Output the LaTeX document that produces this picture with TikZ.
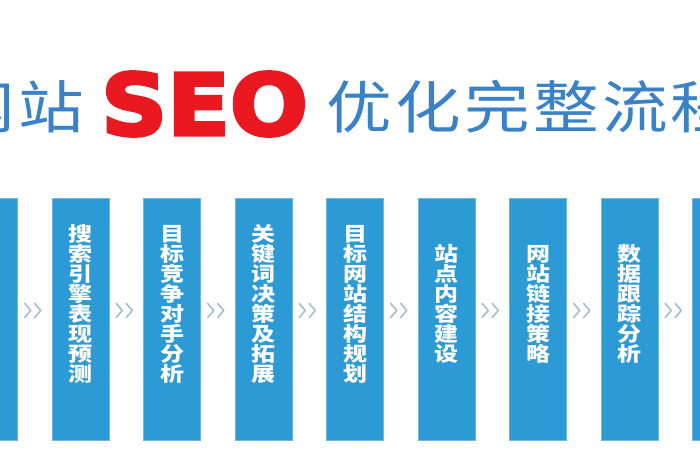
\documentclass[tikz,border=0pt]{standalone}
\usepackage{fontspec}
\usetikzlibrary{calc}
\newfontfamily\boxfont[FakeStretch=1.2]{Noto Sans CJK SC}
\newfontfamily\titlefont[FakeStretch=1.15,LetterSpace=6]{Noto Sans CJK SC}
\newfontfamily\seofont[FakeBold=4,FakeStretch=1.08]{DejaVu Sans Bold}
\definecolor{boxblue}{HTML}{2C9AD5}
\definecolor{boxedge}{HTML}{6CB8E4}
\definecolor{titleblue}{HTML}{3A82C8}
\definecolor{seored}{HTML}{EA1820}
\definecolor{chevgrey}{HTML}{A3BED4}
\tikzset{
  stepbox/.style={rectangle, fill=boxblue, draw=boxedge, line width=0.8pt,
    minimum width=57pt, minimum height=242pt, inner sep=0pt},
  boxtext/.style={text=white, align=center, inner sep=0pt,
    font=\boxfont\bfseries\fontsize{20}{20}\selectfont},
  titletext/.style={text=titleblue, inner sep=0pt,
    font=\titlefont\fontsize{57}{57}\selectfont},
  seotext/.style={text=seored, inner sep=0pt,
    font=\seofont\fontsize{85}{85}\selectfont},
  chev/.style={draw=chevgrey, line width=1.6pt, line cap=round, line join=round}
}
\begin{document}
\begin{tikzpicture}[x=1pt,y=-1pt]
\useasboundingbox (0,0) rectangle (700,470);
\clip (0,0) rectangle (700,470);
\fill[white] (0,0) rectangle (700,470);
% title
\node[titletext, anchor=east] (tl) at (84,107) {网站};
\node[seotext] (seo) at (204.5,104) {SEO};
\node[titletext, anchor=west] (tr) at (326,107) {优化完整流程};
% boxes
\foreach \i in {1,...,9}
  \node[stepbox] (b\i) at ({-11+(\i-1)*91.5},319) {};
% box texts
\node[boxtext] (t2) at ($(b2.center)+(0,-15)$) {搜\\索\\引\\擎\\表\\现\\预\\测};
\node[boxtext] (t3) at ($(b3.center)+(0,-15)$) {目\\标\\竞\\争\\对\\手\\分\\析};
\node[boxtext] (t4) at ($(b4.center)+(0,-15)$) {关\\键\\词\\决\\策\\及\\拓\\展};
\node[boxtext] (t5) at ($(b5.center)+(0,-15)$) {目\\标\\网\\站\\结\\构\\规\\划};
\node[boxtext] (t6) at ($(b6.center)+(0,-15)$) {站\\点\\内\\容\\建\\设};
\node[boxtext] (t7) at ($(b7.center)+(0,-15)$) {网\\站\\链\\接\\策\\略};
\node[boxtext] (t8) at ($(b8.center)+(0,-15)$) {数\\据\\跟\\踪\\分\\析};
% chevrons between boxes
\foreach \a/\b in {1/2,2/3,3/4,4/5,5/6,6/7,7/8,8/9} {
  \coordinate (c\a) at ($(b\a.east)!0.5!(b\b.west)+(0,-8.5)$);
  \draw[chev] ($(c\a)+(-10,-7)$) -- ($(c\a)+(-4,0)$) -- ($(c\a)+(-10,7)$);
  \draw[chev] ($(c\a)+(0,-7)$) -- ($(c\a)+(6,0)$) -- ($(c\a)+(0,7)$);
}
\end{tikzpicture}
\end{document}
